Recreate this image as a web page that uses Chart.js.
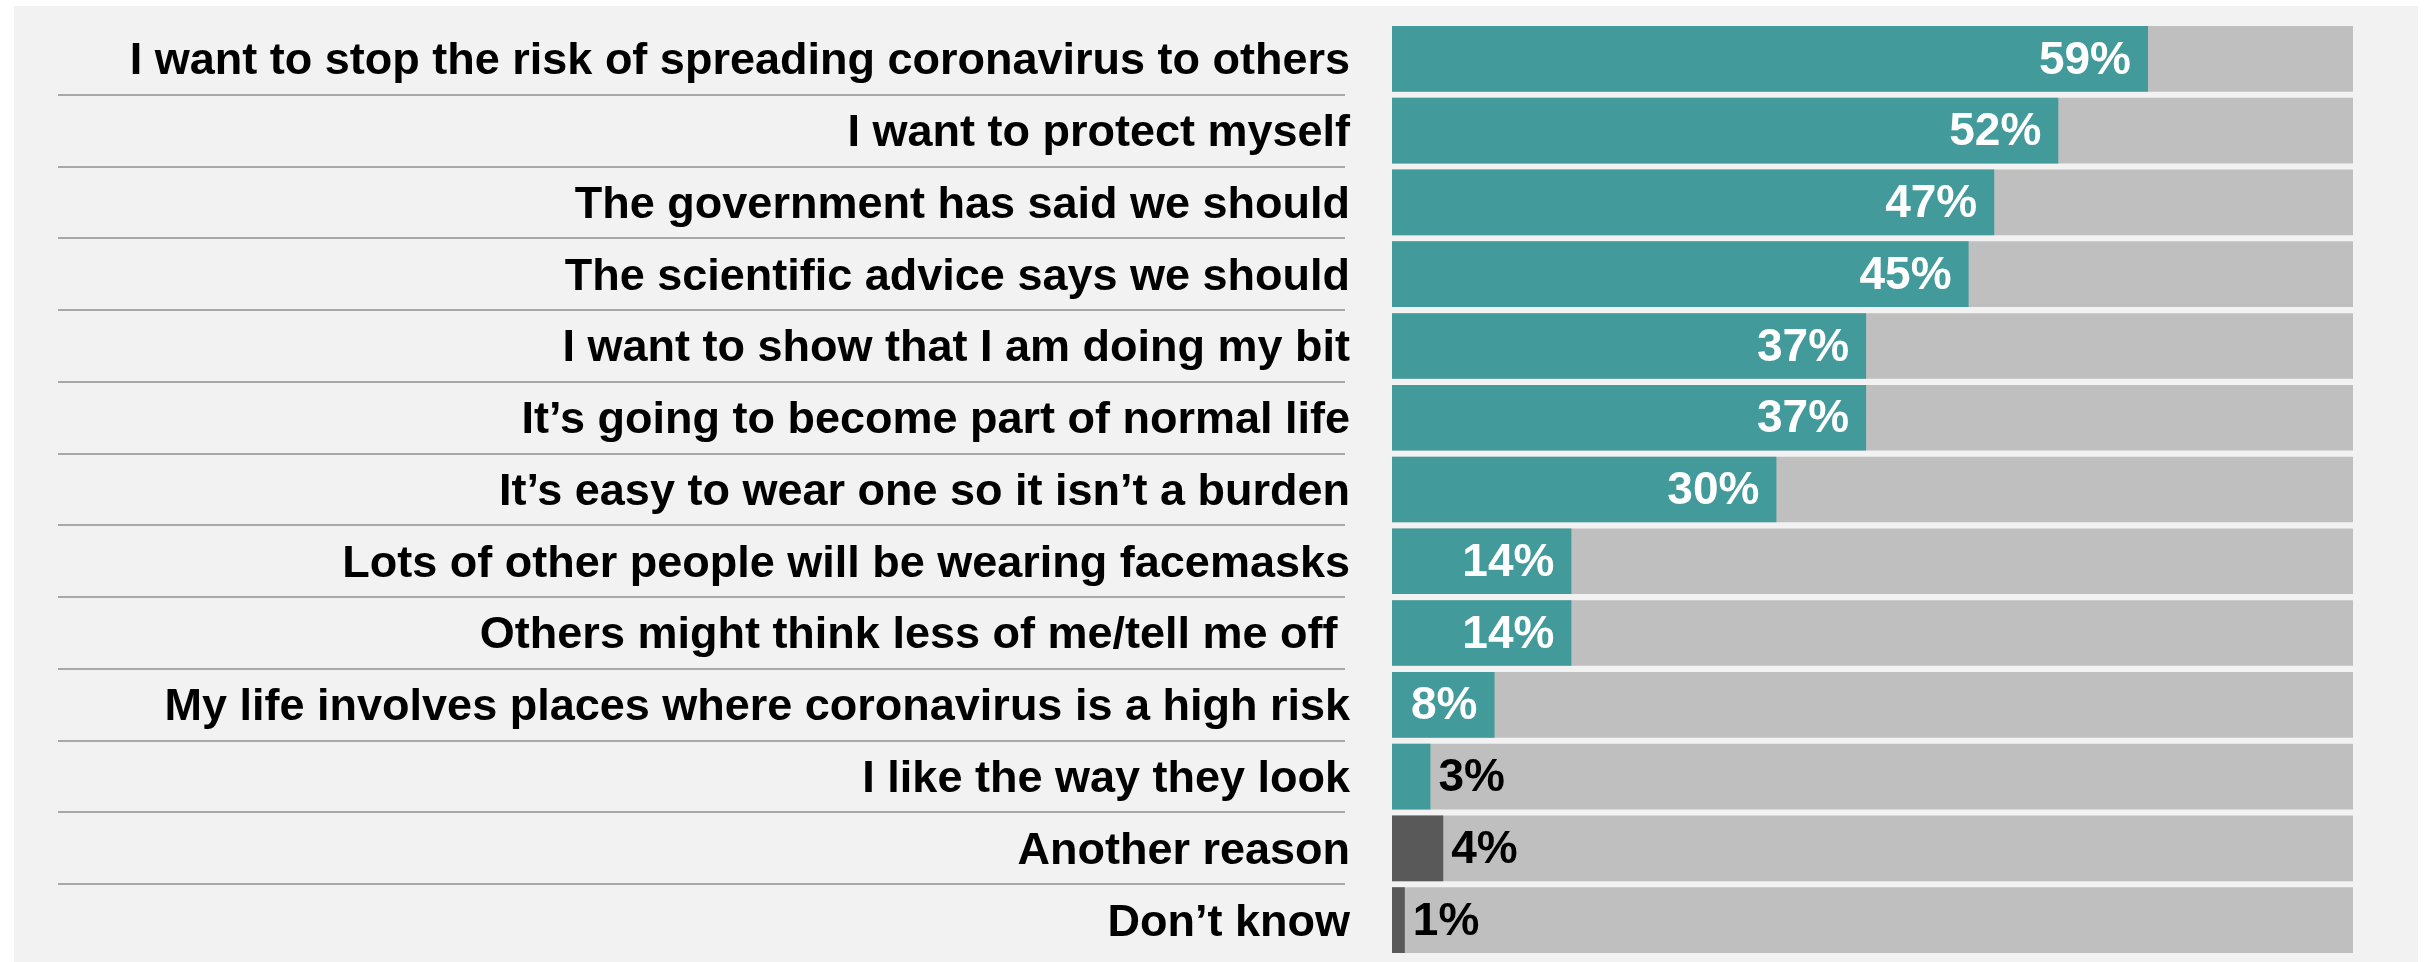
<!DOCTYPE html>
<html>
<head>
<meta charset="utf-8">
<script src="https://cdn.jsdelivr.net/npm/chart.js@4.4.1/dist/chart.umd.min.js"></script>
<style>
	html, body { margin: 0; padding: 0; background: #ffffff; }
	#panel { position: absolute; left: 14px; top: 6px; width: 2404px; height: 956px; background: #f2f2f2; }
	#chart-canvas { display: block; }
</style>
</head>
<body>
<div id="panel"><canvas id="chart-canvas"></canvas></div>
<script>
const reasons = [
	"I want to stop the risk of spreading coronavirus to others",
	"I want to protect myself",
	"The government has said we should",
	"The scientific advice says we should",
	"I want to show that I am doing my bit",
	"It\u2019s going to become part of normal life",
	"It\u2019s easy to wear one so it isn\u2019t a burden",
	"Lots of other people will be wearing facemasks",
	"Others might think less of me/tell me off ",
	"My life involves places where coronavirus is a high risk",
	"I like the way they look",
	"Another reason",
	"Don\u2019t know"
];
const shares = [59, 52, 47, 45, 37, 37, 30, 14, 14, 8, 3, 4, 1];
const backdrop = [75, 75, 75, 75, 75, 75, 75, 75, 75, 75, 75, 75, 75];
const axisMax = 75;

const TEAL = "#439a9a";
const DARK = "#595959";
const barColours = reasons.map((r, i) => i >= 11 ? DARK : TEAL);

// thin rules between the category labels
const separatorPlugin =
{
	id : "separators",
	beforeDatasetsDraw(chart)
	{
		const y = chart.scales.y;
		const ctx = chart.ctx;
		ctx.save();
		ctx.strokeStyle = "#a8a8a8";
		ctx.lineWidth = 2;
		for(let i = 0; i < reasons.length - 1; i++)
		{
			const py = Math.round((y.getPixelForValue(i) + y.getPixelForValue(i + 1)) / 2);
			ctx.beginPath();
			ctx.moveTo(44, py);
			ctx.lineTo(1331, py);
			ctx.stroke();
		}
		ctx.restore();
	}
};

// percentage labels on the bars
const valueLabelPlugin =
{
	id : "valueLabels",
	afterDatasetsDraw(chart)
	{
		const meta = chart.getDatasetMeta(0);
		const ctx = chart.ctx;
		ctx.save();
		ctx.font = "bold 46px 'Liberation Sans', Arial, sans-serif";
		ctx.textBaseline = "middle";
		meta.data.forEach((bar, i) =>
		{
			const text = shares[i] + "%";
			if(shares[i] >= 8)
			{
				ctx.fillStyle = "#ffffff";
				ctx.textAlign = "right";
				ctx.fillText(text, bar.x - 17, bar.y + 2);
			}
			else
			{
				ctx.fillStyle = "#000000";
				ctx.textAlign = "left";
				ctx.fillText(text, bar.x + 8, bar.y + 2);
			}
		});
		ctx.restore();
	}
};

const canvas = document.getElementById("chart-canvas");
canvas.width = 2404;
canvas.height = 956;

new Chart(canvas.getContext("2d"),
{
	type : "bar",
	data :
	{
		labels : reasons,
		datasets :
		[{
			label : "Share",
			data : shares,
			backgroundColor : barColours,
			grouped : false,
			order : 0,
			barPercentage : 0.915,
			categoryPercentage : 1
		},
		{
			label : "Backdrop",
			data : backdrop,
			backgroundColor : "#bfbfbf",
			grouped : false,
			order : 1,
			barPercentage : 0.915,
			categoryPercentage : 1
		}]
	},
	options :
	{
		indexAxis : "y",
		responsive : false,
		animation : false,
		events : [],
		layout : { padding : { left : 0, right : 65, top : 17, bottom : 6 } },
		plugins :
		{
			legend : { display : false },
			tooltip : { enabled : false }
		},
		scales :
		{
			x :
			{
				display : false,
				min : 0,
				max : axisMax
			},
			y :
			{
				afterFit(scale) { scale.width = 1378; },
				border : { display : false },
				grid : { display : false, drawTicks : true, tickLength : 42 },
				ticks :
				{
					padding : 0,
					labelOffset : 3,
					color : "#000000",
					font : { family : "'Liberation Sans', Arial, sans-serif", size : 45, weight : "bold", lineHeight : 0.2 }
				}
			}
		}
	},
	plugins : [separatorPlugin, valueLabelPlugin]
});
</script>
</body>
</html>
